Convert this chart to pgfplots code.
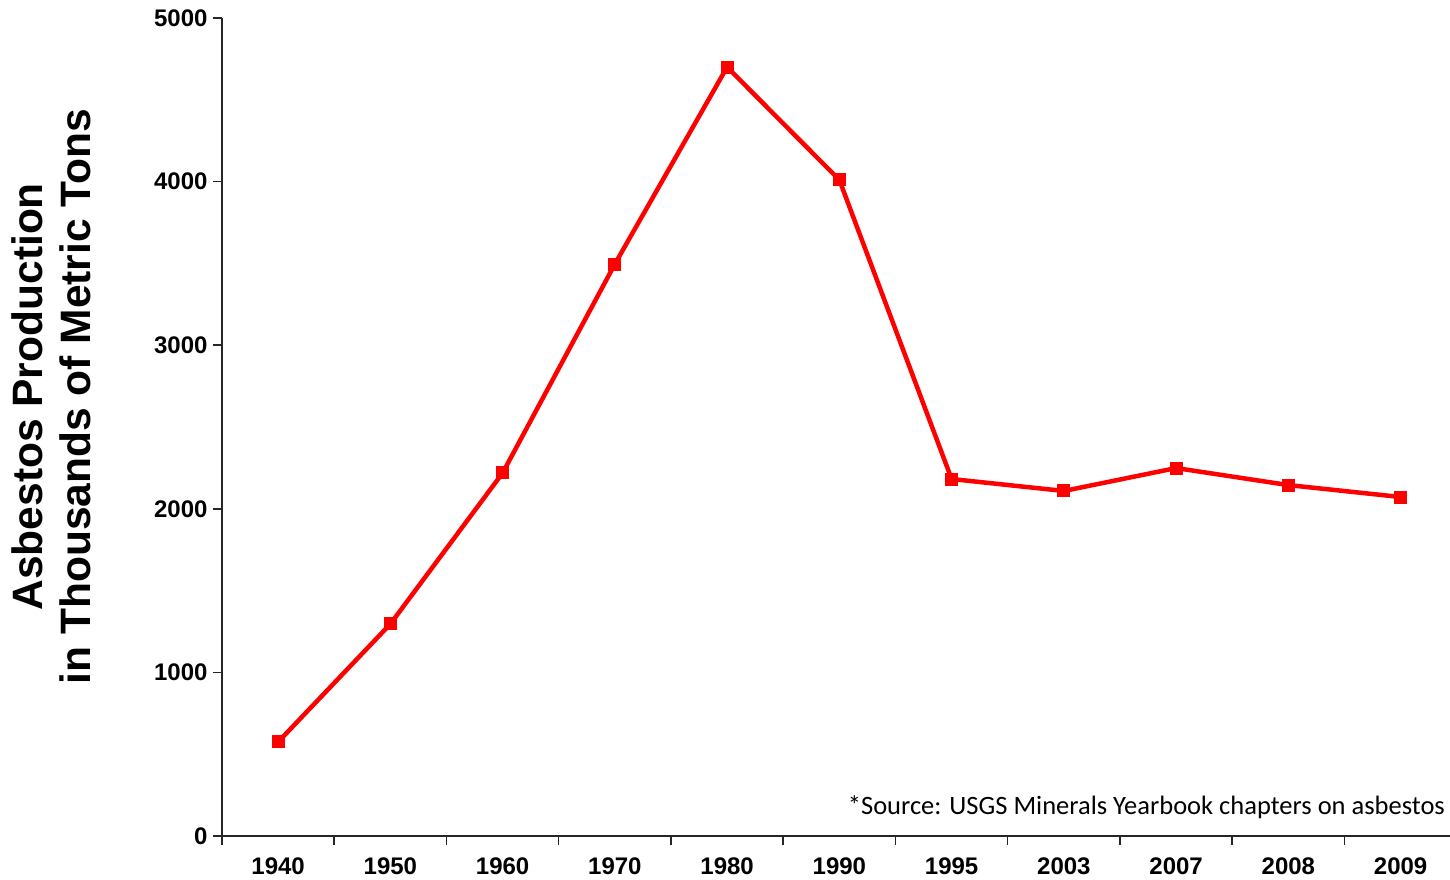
\documentclass[border=0pt]{standalone}
\usepackage{pgfplots}
\pgfplotsset{compat=1.18}
\usepackage{fontspec}
\setmainfont{Liberation Sans}
\newfontfamily\calibri{Carlito}
\begin{document}
\begin{tikzpicture}
\begin{axis}[
  name=ax,
  scale only axis,
  width=1228pt, height=818pt,
  xmin=-0.5, xmax=10.44,
  ymin=0, ymax=5000,
  axis lines=left,
  axis line style={-, line width=1.5pt, draw=black!85},
  clip=false,
  tick align=outside,
  major tick length=9pt,
  tick style={line width=1.5pt, draw=black!85},
  xtick={-0.5,0.5,...,9.5},
  xticklabels={},
  extra x ticks={0,1,...,10},
  extra x tick labels={1940,1950,1960,1970,1980,1990,1995,2003,2007,2008,2009},
  extra x tick style={major tick length=0pt},
  ytick={0,1000,...,5000},
  scaled y ticks=false,
  /pgf/number format/1000 sep={},
  /pgf/number format/assume math mode=true,
  ticklabel style={font=\fontsize{24}{27}\selectfont\bfseries},
  xticklabel style={yshift=-18pt},
  yticklabel style={xshift=-2pt},
  ylabel={Asbestos Production\\in Thousands of Metric Tons},
  ylabel style={align=center, font=\fontsize{42.5}{48}\selectfont\bfseries,
    at={(axis description cs:-0.139,0.537)}, anchor=center},
]
\addplot[color=red, line width=4.5pt, mark=square*, mark size=6pt,
  mark options={line width=0pt}]
  coordinates {
  (0,575) (1,1296) (2,2219) (3,3496) (4,4700) (5,4010)
  (6,2182) (7,2109) (8,2249) (9,2145) (10,2072)
  };
\node[anchor=east, font=\calibri\fontsize{26.5}{30}\selectfont, inner sep=0pt]
  at (axis description cs:0.996,0.035) {*Source: USGS Minerals Yearbook chapters on asbestos};
\end{axis}
\pgfresetboundingbox
\path (ax.south west) ++(-222pt,-43pt) rectangle ++(1450pt,879pt);
\end{tikzpicture}
\end{document}
